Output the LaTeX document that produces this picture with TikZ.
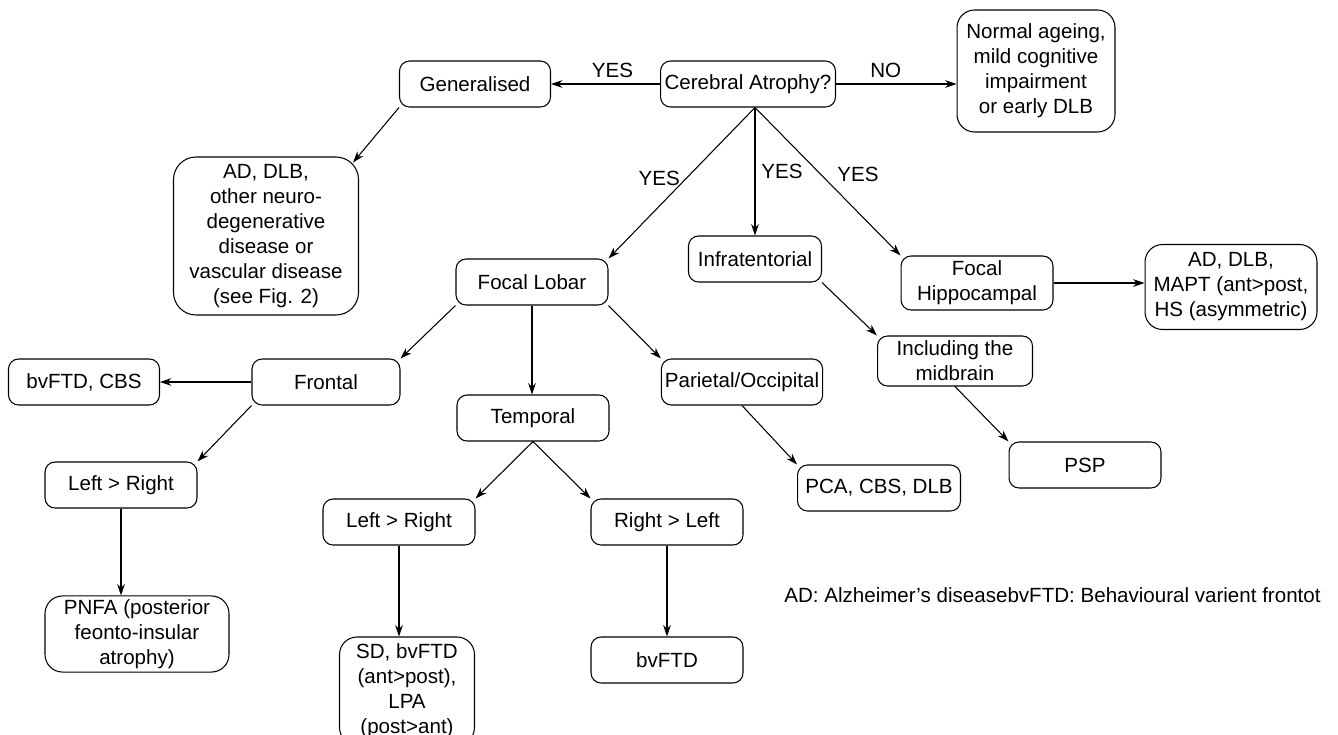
\documentclass[tikz,border=0pt]{standalone}
\usepackage{fontspec}
\setmainfont{Liberation Sans}
\usetikzlibrary{arrows.meta}
\begin{document}
\begin{tikzpicture}[
		x = 0.02cm,
		y = -0.02cm,
		line width = 0.6pt,
		font = \fontsize{11.7}{14.2}\selectfont,
		box/.style = {
			draw,
			rounded corners = 2mm,
			align = center,
			inner sep = 2pt,
			minimum width = 3.04cm,
			minimum height = 0.92cm
		},
		bigbox/.style = {
			box,
			rounded corners = 3.5mm
		},
		arr/.style = {
			-{Stealth[length=6.5pt, width=4.4pt]}
		}
	]
	\useasboundingbox (0,0) rectangle (1338,734);
	% top row
	\node[box, minimum width=3.5cm]  (atrophy) at (748,84)  {Cerebral Atrophy?};
	\node[box, minimum width=3.02cm] (general) at (475,84)  {Generalised};
	\node[bigbox, minimum width=3.16cm, minimum height=2.44cm] (normal) at (1036,71)
		{Normal ageing,\\mild cognitive\\impairment\\or early DLB};
	\node[bigbox, minimum width=3.7cm, minimum height=3.16cm, rounded corners=4.5mm] (gendis) at (266,236)
		{AD, DLB,\\other neuro-\\degenerative\\disease or\\vascular disease\\(see Fig. 2)};
	% second level
	\node[box] (lobar) at (532,282) {Focal Lobar};
	\node[box, minimum width=2.66cm] (infra) at (755,259) {Infratentorial};
	\node[box, minimum height=1.08cm] (hippo) at (977,283) {Focal\\Hippocampal};
	\node[bigbox, minimum width=3.44cm, minimum height=1.7cm] (hippodx) at (1231,287)
		{AD, DLB,\\MAPT (ant>post,\\HS (asymmetric)};
	% lobes
	\node[box, minimum width=3.02cm] (bvcbs)    at (84,382)  {bvFTD, CBS};
	\node[box, minimum width=2.96cm] (frontal)  at (326,382) {Frontal};
	\node[box]                       (temporal) at (533,418) {Temporal};
	\node[box, minimum width=3.22cm] (parietal) at (742,382) {Parietal/Occipital};
	\node[box, minimum width=3.1cm, minimum height=1cm] (midbrain) at (955,361) {Including the\\midbrain};
	\node[box]                       (psp)      at (1085,465) {PSP};
	\node[box, minimum width=3.26cm] (pca)      at (879,488) {PCA, CBS, DLB};
	% laterality
	\node[box] (frontlr) at (121,485) {Left > Right};
	\node[box] (templr)  at (399,522) {Left > Right};
	\node[box] (temprl)  at (667,522) {Right > Left};
	\node[bigbox, minimum width=3.68cm, minimum height=1.5cm] (pnfa) at (137,634)
		{PNFA (posterior\\feonto-insular\\atrophy)};
	\node[bigbox, minimum width=2.7cm, minimum height=2.16cm] (sd) at (407,691)
		{SD, bvFTD\\(ant>post),\\LPA\\(post>ant)};
	\node[box] (bvftd) at (667,660) {bvFTD};
	\node[anchor=west] (legend) at (778,595) {AD: Alzheimer’s diseasebvFTD: Behavioural varient frontot};
	% connectors
	\coordinate (fork) at (atrophy.south -| infra.north);
	\draw[arr] (atrophy.west) -- node[above, xshift=4pt] {YES} (general.east);
	\draw[arr] (atrophy.east) -- node[above, xshift=-6pt] {NO} (atrophy.east -| normal.west);
	\draw[arr] (general.south west) -- ([shift={(-6,6)}]gendis.north east);
	\draw[arr] (fork) -- node[pos=0.47, left] {YES} (lobar.north east);
	\draw[arr] (fork) -- node[right] {YES} (infra.north);
	\draw[arr] (fork) -- node[pos=0.45, right=6pt] {YES} (hippo.north west);
	\draw[arr] (hippo.east) -- (hippo.east -| hippodx.west);
	\draw[arr] (lobar.south west) -- (frontal.north east);
	\draw[arr] (lobar.south) -- (lobar.south |- temporal.north);
	\draw[arr] (lobar.south east) -- (parietal.north west);
	\draw[arr] (frontal.west) -- (bvcbs.east);
	\draw[arr] (frontal.south west) -- (frontlr.north east);
	\draw[arr] (frontlr.south) -- (frontlr.south |- pnfa.north);
	\draw[arr] (temporal.south) -- (templr.north east);
	\draw[arr] (temporal.south) -- (temprl.north west);
	\draw[arr] (templr.south) -- (templr.south |- sd.north);
	\draw[arr] (temprl.south) -- (bvftd.north);
	\draw[arr] (parietal.south) -- (pca.north west);
	\draw[arr] (infra.south east) -- (midbrain.north west);
	\draw[arr] (midbrain.south) -- (psp.north west);
\end{tikzpicture}
\end{document}
